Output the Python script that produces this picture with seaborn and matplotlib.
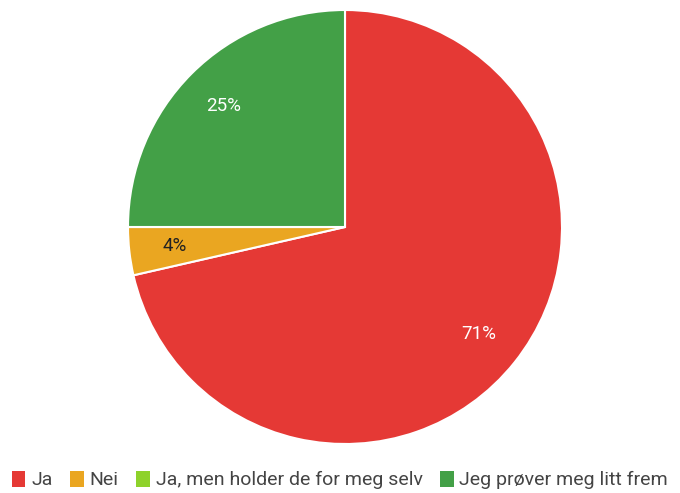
import matplotlib.pyplot as plt
import seaborn as sns
from matplotlib.patches import Patch

labels = ['Ja', 'Nei', 'Ja, men holder de for meg selv', 'Jeg prøver meg litt frem']
counts = [20, 1, 0, 7]
colors = ['#e53935', '#eaa621', '#8ed22b', '#43a047']
text_colors = ['white', '#222222', '#222222', 'white']

sns.set_theme(style='white')
plt.rcParams['font.family'] = ['Roboto', 'DejaVu Sans']

fig = plt.figure(figsize=(6.8, 4.93), dpi=100)
ax = fig.add_axes([128 / 680, 49 / 493, 434 / 680, 434 / 493])

wedges, texts, autotexts = ax.pie(
    counts, colors=colors, startangle=90, counterclock=False,
    autopct=lambda p: f'{p:.0f}%' if p > 0 else '',
    pctdistance=0.79, radius=1,
    wedgeprops=dict(edgecolor='white', linewidth=1.5),
    textprops=dict(fontsize=13.5),
)
for t, c in zip(autotexts, text_colors):
    t.set_color(c)
ax.set_xlim(-1, 1)
ax.set_ylim(-1, 1)
ax.set_aspect('equal')
ax.axis('off')

handles = [Patch(facecolor=c, edgecolor='none') for c in colors]
fig.legend(handles, labels, loc='center', bbox_to_anchor=(0.5, 1 - 480 / 493),
           ncol=4, frameon=False, fontsize=14, handlelength=0.7, handleheight=0.9,
           handletextpad=0.3, columnspacing=0.9, labelcolor='#444444')

fig.savefig('out.png', dpi=100)
